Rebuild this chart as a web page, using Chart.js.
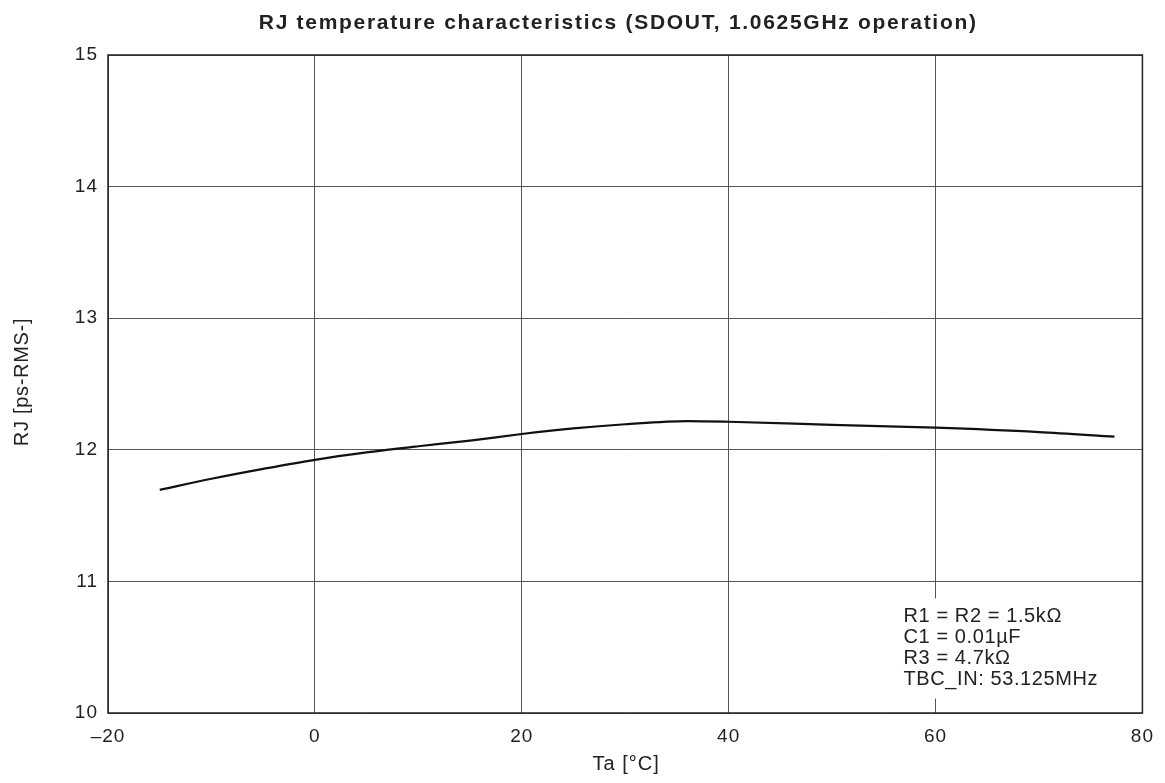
<!DOCTYPE html>
<html>
<head>
<meta charset="utf-8">
<script src="https://cdn.jsdelivr.net/npm/chart.js@4/dist/chart.umd.min.js"></script>
<style>
  html, body { margin: 0; padding: 0; background: #fff; }
  #wrap { width: 1165px; height: 783px; }
</style>
</head>
<body>
<div id="wrap"><canvas id="rjChart" width="1165" height="783"></canvas></div>
<script>
// Ta [°C] vs RJ [ps-RMS-]
const temps = [-15, -10, -5, 0, 5, 10, 15, 20, 25, 30, 36, 40, 50, 60, 70, 77.3];
const rjValues = [11.696, 11.78, 11.855, 11.924, 11.98, 12.027, 12.07, 12.12, 12.163, 12.194, 12.218, 12.213, 12.19, 12.168, 12.135, 12.10];
const xTicks = [-20, 0, 20, 40, 60, 80];
const yTicks = [10, 11, 12, 13, 14, 15];
const titleText = 'RJ temperature characteristics (SDOUT, 1.0625GHz operation)';
const xTitle = 'Ta [\u00B0C]';
const yTitle = 'RJ [ps-RMS-]';
const noteLines = ['R1 = R2 = 1.5k\u03A9', 'C1 = 0.01\u00B5F', 'R3 = 4.7k\u03A9', 'TBC_IN: 53.125MHz'];

const FONT = 'Arial, "Liberation Sans", Helvetica, sans-serif';
const INK = '#222';

// the reference uses a slightly wide Helvetica, so text gets some letter spacing
const textPlugin = {
    id: 'texts',
    beforeDraw(chart) {
        chart.ctx.letterSpacing = '1px';
    },
    beforeDatasetsDraw(chart) {
        // white patch behind the notes, it cuts the grid lines like the original
        const { ctx, scales } = chart;
        const x0 = scales.x.getPixelForValue(56.2);
        const x1 = scales.x.getPixelForValue(76.5);
        const y0 = scales.y.getPixelForValue(10.87);
        const y1 = scales.y.getPixelForValue(10.11);
        ctx.save();
        ctx.fillStyle = '#fff';
        ctx.fillRect(x0, y0, x1 - x0, y1 - y0);
        ctx.restore();
    },
    afterDraw(chart) {
        const { ctx, chartArea: a, scales } = chart;
        ctx.save();
        ctx.strokeStyle = INK;
        ctx.lineWidth = 1.5;
        ctx.strokeRect(a.left, a.top, a.right - a.left, a.bottom - a.top);

        ctx.fillStyle = INK;
        ctx.textBaseline = 'middle';
        ctx.textAlign = 'center';

        ctx.font = 'bold 21px ' + FONT;
        ctx.letterSpacing = '1.7px';
        ctx.fillText(titleText, (a.left + a.right) / 2 - 7, 23);

        ctx.font = '20px ' + FONT;
        ctx.letterSpacing = '1px';
        ctx.fillText(xTitle, (a.left + a.right) / 2 + 1, 764);

        ctx.save();
        ctx.translate(22, (a.top + a.bottom) / 2 - 2);
        ctx.rotate(-Math.PI / 2);
        ctx.letterSpacing = '0.7px';
        ctx.fillText(yTitle, 0, 0);
        ctx.restore();

        ctx.textAlign = 'left';
        ctx.textBaseline = 'alphabetic';
        ctx.letterSpacing = '0.6px';
        const nx = scales.x.getPixelForValue(56.9);
        const ny = scales.y.getPixelForValue(10.69);
        noteLines.forEach((line, i) => ctx.fillText(line, nx, ny + i * 21));
        ctx.restore();
    }
};

new Chart(document.getElementById('rjChart'), {
    type: 'line',
    data: {
        datasets: [{
            data: temps.map((t, i) => ({ x: t, y: rjValues[i] })),
            borderColor: '#111',
            borderWidth: 2.2,
            pointRadius: 0,
            cubicInterpolationMode: 'monotone',
            fill: false
        }]
    },
    options: {
        responsive: false,
        animation: false,
        layout: { padding: { left: 0, right: 22, top: 55, bottom: 0 } },
        plugins: {
            legend: { display: false },
            tooltip: { enabled: false },
            title: { display: false }
        },
        scales: {
            x: {
                type: 'linear',
                min: -20, max: 80,
                afterBuildTicks: s => { s.ticks = xTicks.map(v => ({ value: v })); },
                afterFit: s => { s.height = 70; },
                grid: { color: '#555', lineWidth: 1, drawTicks: false },
                border: { display: false },
                ticks: {
                    color: INK,
                    padding: 12,
                    font: { family: FONT, size: 19 },
                    callback: v => (v < 0 ? '\u2013' + Math.abs(v) : String(v))
                }
            },
            y: {
                type: 'linear',
                min: 10, max: 15,
                afterBuildTicks: s => { s.ticks = yTicks.map(v => ({ value: v })); },
                afterFit: s => { s.width = 108; },
                grid: { color: '#555', lineWidth: 1, drawTicks: false },
                border: { display: false },
                ticks: {
                    color: INK,
                    padding: 10,
                    font: { family: FONT, size: 19 }
                }
            }
        }
    },
    plugins: [textPlugin]
});
</script>
</body>
</html>
